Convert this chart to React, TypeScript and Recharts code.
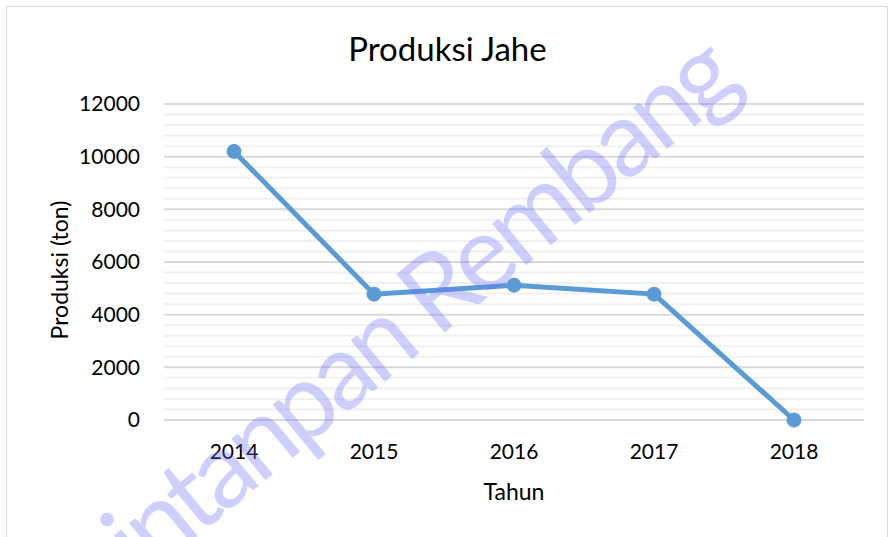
import React from "react";
import {
  LineChart,
  Line,
  CartesianGrid,
  XAxis,
  YAxis,
  ReferenceLine,
  Label
} from "recharts";

const years = ["2014", "2015", "2016", "2017", "2018"];
const produksi = [10200, 4780, 5120, 4780, 0];
const majorTicks = [0, 2000, 4000, 6000, 8000, 10000, 12000];
const minorTicks = [
  400, 800, 1200, 1600, 2400, 2800, 3200, 3600, 4400, 4800, 5200, 5600,
  6400, 6800, 7200, 7600, 8400, 8800, 9200, 9600, 10400, 10800, 11200, 11600
];

const data = years.map((tahun, i) => ({ tahun, produksi: produksi[i] }));

const FONT = "Lato, 'Open Sans', sans-serif";
const BLUE = "#5b9bd5";

export default function App() {
  return (
    <div style={{ position: "absolute", left: 0, top: 0, width: 895, height: 537, background: "#fff", fontFamily: FONT, overflow: "hidden" }}>
      {/* chart area border */}
      <div
        style={{
          position: "absolute",
          left: 6,
          top: 6,
          width: 882,
          height: 540,
          border: "1.5px solid #d9d9d9",
          boxSizing: "border-box"
        }}
      />
      <div
        style={{
          position: "absolute",
          left: 0,
          width: 895,
          top: 28,
          textAlign: "center",
          fontSize: 33,
          color: "#000",
          lineHeight: "40px"
        }}
      >
        Produksi Jahe
      </div>
      <div style={{ position: "absolute", left: 0, top: 0 }}>
        <LineChart width={895} height={537} data={data} margin={{ top: 104, right: 31, bottom: 87, left: 64 }}>
          <CartesianGrid vertical={false} stroke="#d9d9d9" strokeWidth={2} />
          {minorTicks.map((v) => (
            <ReferenceLine key={v} y={v} stroke="#f0f0f0" strokeWidth={2} ifOverflow="hidden" />
          ))}
          <XAxis
            dataKey="tahun"
            padding={{ left: 70, right: 70 }}
            axisLine={false}
            tickLine={false}
            tickSize={0}
            tickMargin={24}
            height={30}
            tick={{ fontSize: 21, fill: "#000", fontFamily: FONT }}
          >
            <Label value="Tahun" position="insideBottom" offset={-50} style={{ fontSize: 23, fill: "#000", fontFamily: FONT }} />
          </XAxis>
          <YAxis
            domain={[0, 12000]}
            ticks={majorTicks}
            axisLine={false}
            tickLine={false}
            tickSize={0}
            tickMargin={24}
            width={100}
            interval={0}
            tick={{ fontSize: 21, fill: "#000", fontFamily: FONT }}
          >
            <Label
              value="Produksi (ton)"
              angle={-90}
              position="insideLeft"
              offset={-4}
              dy={8}
              style={{ fontSize: 23, fill: "#000", fontFamily: FONT, textAnchor: "middle" }}
            />
          </YAxis>
          <Line
            type="linear"
            dataKey="produksi"
            stroke={BLUE}
            strokeWidth={5}
            dot={{ r: 7, fill: BLUE, stroke: BLUE, strokeWidth: 1 }}
            activeDot={false}
            isAnimationActive={false}
          />
        </LineChart>
      </div>
      {/* watermark */}
      <svg width={895} height={537} style={{ position: "absolute", left: 0, top: 0, pointerEvents: "none" }}>
        <text
          x={142}
          y={582}
          transform="rotate(-39.5 142 582)"
          fontSize={106}
          fontFamily={FONT}
          letterSpacing={-5.5}
          fill="rgb(110,110,255)"
          fillOpacity={0.33}
        >
          intanpan Rembang
        </text>
      </svg>
    </div>
  );
}
